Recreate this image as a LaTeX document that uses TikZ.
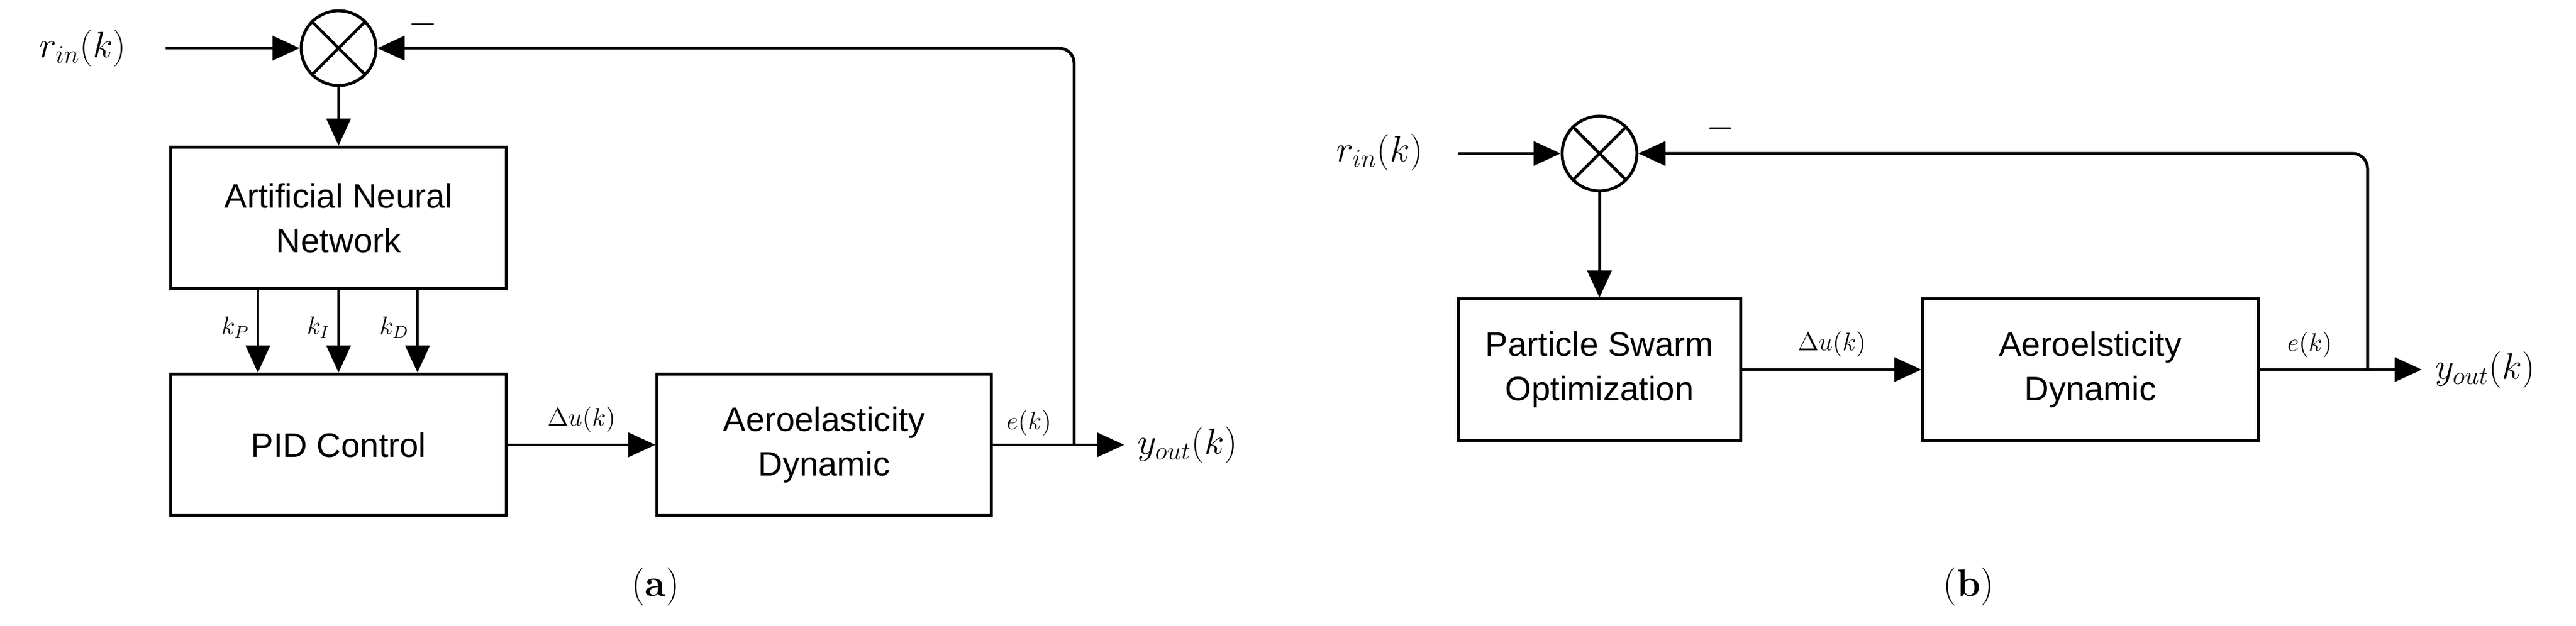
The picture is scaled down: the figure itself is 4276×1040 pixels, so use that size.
\documentclass[tikz,border=0pt]{standalone}
\usepackage{fontspec}
\setmainfont{Latin Modern Roman}
\newfontfamily\boxfont{Liberation Sans}
\usetikzlibrary{arrows.meta}
\begin{document}
\begin{tikzpicture}[x=0.01cm,y=-0.01cm,
  blk/.style={draw,line width=1.4pt,rectangle,inner sep=0pt,align=center,font=\boxfont\fontsize{16}{21}\selectfont},
  sum/.style={draw,line width=1.4pt,circle,minimum size=1.24cm,inner sep=0pt},
  ln/.style={line width=1.4pt},
  arr/.style={line width=1.4pt,-{Triangle[length=0.45cm,width=0.4cm]}},
  big/.style={font=\fontsize{18}{22}\selectfont},
  sml/.style={font=\fontsize{12}{14}\selectfont},
  captxt/.style={font=\fontsize{18}{22}\selectfont}]
\useasboundingbox (0,0) rectangle (4276,1040);
% ---------- (a)
\node[sum] (sA) at (562,80) {};
\draw[ln] (sA.north west) -- (sA.south east) (sA.north east) -- (sA.south west);
\node[big] (rA) at (137,80) {$r_{in}(k)$};
\node[blk,minimum width=5.56cm,minimum height=2.35cm] (ann) at (562,362) {Artificial Neural\\Network};
\node[blk,minimum width=5.56cm,minimum height=2.35cm] (pid) at (562,739) {PID Control};
\node[blk,minimum width=5.55cm,minimum height=2.35cm] (aeA) at (1368,739) {Aeroelasticity\\Dynamic};
\coordinate (kp) at (428,0); \coordinate (ki) at (562,0); \coordinate (kd) at (693,0);
\coordinate (brA) at (1783,739); \coordinate (outA) at (1866,739); \coordinate (tA) at (1783,80);
\coordinate (inA) at (275,80);
\draw[arr] (inA) -- (sA.west);
\draw[arr] (sA.south) -- (ann.north);
\draw[arr] (ann.south -| kp) -- node[sml,left,pos=0.45]{$k_P$} (pid.north -| kp);
\draw[arr] (ann.south -| ki) -- node[sml,left,pos=0.45]{$k_I$} (pid.north -| ki);
\draw[arr] (ann.south -| kd) -- node[sml,left,pos=0.45]{$k_D$} (pid.north -| kd);
\draw[arr] (pid.east) -- node[sml,above=2pt]{$\Delta u(k)$} (aeA.west);
\draw[arr] (aeA.east) -- (outA);
\draw[arr,rounded corners=0.25cm] (brA) -- (tA) -- (sA.east);
\node[sml] (eA) at (1708,703) {$e(k)$};
\node[big,anchor=west] (yA) at (1876,739) {$y_{out}(k)$};
\node[font=\fontsize{16}{20}\selectfont] (mA) at (702,40) {$-$};
\node[captxt] (capA) at (1088,975) {(\textbf{a})};
% ---------- (b)
\node[sum] (sB) at (2655,255) {};
\draw[ln] (sB.north west) -- (sB.south east) (sB.north east) -- (sB.south west);
\node[big] (rB) at (2290,253) {$r_{in}(k)$};
\node[blk,minimum width=4.69cm,minimum height=2.34cm] (pso) at (2655,614) {Particle Swarm\\Optimization};
\node[blk,minimum width=5.56cm,minimum height=2.34cm] (aeB) at (3470,614) {Aeroelsticity\\Dynamic};
\coordinate (inB) at (2421,255); \coordinate (brB) at (3930,614); \coordinate (outB) at (4020,614); \coordinate (tB) at (3930,255);
\draw[arr] (inB) -- (sB.west);
\draw[arr] (sB.south) -- (pso.north);
\draw[arr] (pso.east) -- node[sml,above=2pt]{$\Delta u(k)$} (aeB.west);
\draw[arr] (aeB.east) -- (outB);
\draw[arr,rounded corners=0.25cm] (brB) -- (tB) -- (sB.east);
\node[sml] (eB) at (3834,573) {$e(k)$};
\node[big,anchor=west] (yB) at (4030,614) {$y_{out}(k)$};
\node[font=\fontsize{16}{20}\selectfont] (mB) at (2856,213) {$-$};
\node[captxt] (capB) at (3268,975) {(\textbf{b})};
\end{tikzpicture}
\end{document}
